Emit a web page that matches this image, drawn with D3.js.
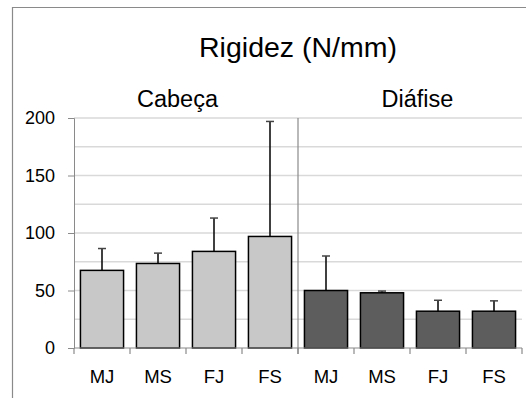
<!DOCTYPE html>
<html>
<head>
<meta charset="utf-8">
<script src="https://cdn.jsdelivr.net/npm/d3@7"></script>
<style>
  html, body { margin: 0; padding: 0; background: #fff; }
  svg { display: block; font-family: "Liberation Sans", Arial, Helvetica, sans-serif; }
</style>
</head>
<body>
<svg id="chart" width="526" height="398"></svg>
<script>
// Stiffness (N/mm) per group and sample type
const groups = ["Cabeça", "Diáfise"];
const categories = ["MJ", "MS", "FJ", "FS"];
const cabecaMeans = [67.5, 73.5, 84, 97];
const cabecaErrors = [19, 9, 29, 100];
const diafiseMeans = [50, 48, 32, 32];
const diafiseErrors = [30, 1.5, 9.5, 9];
const yTicks = [0, 50, 100, 150, 200];
const titleText = "Rigidez (N/mm)";

const groupColors = ["#c8c8c8", "#5d5d5d"];
const groupMeans = [cabecaMeans, diafiseMeans];
const groupErrors = [cabecaErrors, diafiseErrors];

const rows = [];
groups.forEach((g, gi) => {
  categories.forEach((c, ci) => {
    rows.push({ key: g + "|" + c, group: gi, cat: c,
                value: groupMeans[gi][ci], err: groupErrors[gi][ci] });
  });
});

const svg = d3.select("#chart");
const plotLeft = 74, plotRight = 522, plotTop = 118, plotBottom = 348;

const x = d3.scaleBand()
  .domain(rows.map(d => d.key))
  .range([plotLeft, plotRight])
  .paddingInner(0.23)
  .paddingOuter(0.115);
const step = x.step();

const y = d3.scaleLinear().domain([0, 200]).range([plotBottom, plotTop]);

// outer frame (left and top edges)
svg.append("path")
  .attr("d", `M12.5,398 V7.5 H526`)
  .attr("fill", "none").attr("stroke", "#8a8a8a").attr("stroke-width", 1.2);

// gridlines every 25
svg.append("g").selectAll("line")
  .data(d3.range(25, 201, 25))
  .join("line")
  .attr("x1", plotLeft).attr("x2", plotRight)
  .attr("y1", d => y(d)).attr("y2", d => y(d))
  .attr("stroke", "#d9d9d9").attr("stroke-width", 1.5);

// y axis
const yAxis = svg.append("g")
  .attr("transform", `translate(${plotLeft},0)`)
  .call(d3.axisLeft(y).tickValues(yTicks).tickSize(6).tickPadding(13));
yAxis.select(".domain").attr("stroke", "#8a8a8a");
yAxis.selectAll(".tick line").attr("stroke", "#8a8a8a");
yAxis.selectAll(".tick text")
  .attr("font-size", 18).attr("fill", "#000")
  .attr("font-family", '"Liberation Sans", Arial, sans-serif');

// group divider
const divX = plotLeft + step * categories.length;
svg.append("line")
  .attr("x1", divX).attr("x2", divX)
  .attr("y1", plotTop).attr("y2", plotBottom + 6)
  .attr("stroke", "#8a8a8a").attr("stroke-width", 1.2);

// bars
svg.append("g").selectAll("rect")
  .data(rows)
  .join("rect")
  .attr("x", d => x(d.key))
  .attr("width", x.bandwidth())
  .attr("y", d => y(d.value))
  .attr("height", d => y(0) - y(d.value))
  .attr("fill", d => groupColors[d.group])
  .attr("stroke", "#000").attr("stroke-width", 1.5);

// error bars
const eb = svg.append("g").selectAll("g").data(rows).join("g");
eb.append("line")
  .attr("x1", d => x(d.key) + x.bandwidth() / 2)
  .attr("x2", d => x(d.key) + x.bandwidth() / 2)
  .attr("y1", d => y(d.value))
  .attr("y2", d => y(d.value + d.err))
  .attr("stroke", "#000").attr("stroke-width", 1.5);
eb.append("line")
  .attr("x1", d => x(d.key) + x.bandwidth() / 2 - 4)
  .attr("x2", d => x(d.key) + x.bandwidth() / 2 + 4)
  .attr("y1", d => y(d.value + d.err))
  .attr("y2", d => y(d.value + d.err))
  .attr("stroke", "#444").attr("stroke-width", 1.5);

// x baseline with category boundary ticks
svg.append("line")
  .attr("x1", plotLeft).attr("x2", plotRight)
  .attr("y1", plotBottom).attr("y2", plotBottom)
  .attr("stroke", "#8a8a8a").attr("stroke-width", 1.2);
svg.append("g").selectAll("line")
  .data(d3.range(rows.length + 1))
  .join("line")
  .attr("x1", i => plotLeft + i * step).attr("x2", i => plotLeft + i * step)
  .attr("y1", plotBottom).attr("y2", plotBottom + 6)
  .attr("stroke", "#8a8a8a").attr("stroke-width", 1.2);

// category labels
svg.append("g").selectAll("text")
  .data(rows)
  .join("text")
  .attr("x", d => x(d.key) + x.bandwidth() / 2)
  .attr("y", 383)
  .attr("text-anchor", "middle")
  .attr("font-size", 18.5)
  .text(d => d.cat);

// group labels
const groupLabelX = [177.5, 417.5];
svg.append("g").selectAll("text")
  .data(groups)
  .join("text")
  .attr("x", (d, i) => groupLabelX[i])
  .attr("y", 106.5)
  .attr("text-anchor", "middle")
  .attr("font-size", 23.5)
  .text(d => d);

// title
svg.append("text")
  .attr("x", 298).attr("y", 57)
  .attr("text-anchor", "middle")
  .attr("font-size", 28.5)
  .text(titleText);
</script>
</body>
</html>
